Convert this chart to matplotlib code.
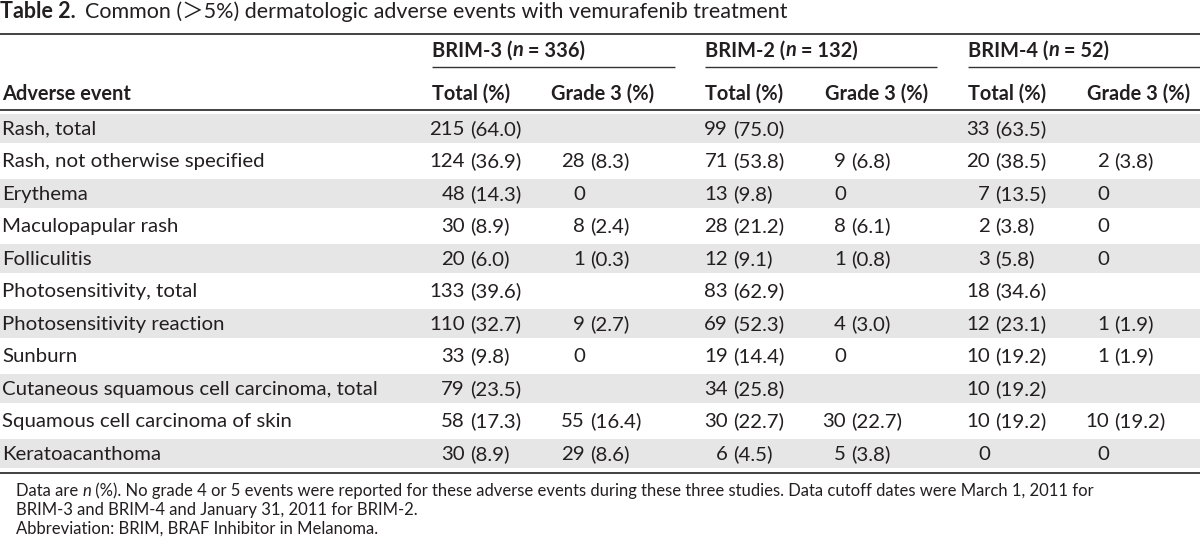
import matplotlib
matplotlib.use("Agg")
import matplotlib.pyplot as plt
from matplotlib.patches import Rectangle

# ---------------- data ----------------
title_bold = "Table 2."
title_rest = "Common (＞5%) dermatologic adverse events with vemurafenib treatment"

studies = ["BRIM-3", "BRIM-2", "BRIM-4"]
study_n = [336, 132, 52]
sub_headers = ["Total (%)", "Grade 3 (%)"]
row_header = "Adverse event"

events = [
    "Rash, total",
    "Rash, not otherwise specified",
    "Erythema",
    "Maculopapular rash",
    "Folliculitis",
    "Photosensitivity, total",
    "Photosensitivity reaction",
    "Sunburn",
    "Cutaneous squamous cell carcinoma, total",
    "Squamous cell carcinoma of skin",
    "Keratoacanthoma",
]

brim3_total_n = [215, 124, 48, 30, 20, 133, 110, 33, 79, 58, 30]
brim3_total_pct = [64.0, 36.9, 14.3, 8.9, 6.0, 39.6, 32.7, 9.8, 23.5, 17.3, 8.9]
brim3_g3_n = [None, 28, 0, 8, 1, None, 9, 0, None, 55, 29]
brim3_g3_pct = [None, 8.3, None, 2.4, 0.3, None, 2.7, None, None, 16.4, 8.6]

brim2_total_n = [99, 71, 13, 28, 12, 83, 69, 19, 34, 30, 6]
brim2_total_pct = [75.0, 53.8, 9.8, 21.2, 9.1, 62.9, 52.3, 14.4, 25.8, 22.7, 4.5]
brim2_g3_n = [None, 9, 0, 8, 1, None, 4, 0, None, 30, 5]
brim2_g3_pct = [None, 6.8, None, 6.1, 0.8, None, 3.0, None, None, 22.7, 3.8]

brim4_total_n = [33, 20, 7, 2, 3, 18, 12, 10, 10, 10, 0]
brim4_total_pct = [63.5, 38.5, 13.5, 3.8, 5.8, 34.6, 23.1, 19.2, 19.2, 19.2, None]
brim4_g3_n = [None, 2, 0, 0, 0, None, 1, 1, None, 10, 0]
brim4_g3_pct = [None, 3.8, None, None, None, None, 1.9, 1.9, None, 19.2, None]

footer_line1_a = "Data are "
footer_line1_n = "n"
footer_line1_b = (" (%). No grade 4 or 5 events were reported for these adverse events "
                  "during these three studies. Data cutoff dates were March 1, 2011 for")
footer_line2 = "BRIM-3 and BRIM-4 and January 31, 2011 for BRIM-2."
footer_line3 = "Abbreviation: BRIM, BRAF Inhibitor in Melanoma."

# ---------------- layout / style ----------------
W, H = 1200, 544
FAM = ["Lato", "Noto Sans CJK SC", "DejaVu Sans"]
TXT = "#231f20"
SHADE = "#e6e6e6"

fig = plt.figure(figsize=(W / 100, H / 100), dpi=100)
ax = fig.add_axes([0, 0, 1, 1])
ax.set_xlim(0, W)
ax.set_ylim(H, 0)
ax.axis("off")
fig.canvas.draw()
renderer = fig.canvas.get_renderer()


def width(s, size, **kw):
    t = ax.text(0, 0, s + "|", fontsize=size, family=FAM, **kw)
    t2 = ax.text(0, 0, "|", fontsize=size, family=FAM, **kw)
    w = t.get_window_extent(renderer).width - t2.get_window_extent(renderer).width
    t.remove()
    t2.remove()
    return w


def fit(s, target, **kw):
    return 10 * target / width(s, 10, **kw)


body_size = fit(events[8], 375)
bold_size = fit("Grade 3 (%)", 103, weight="bold")
foot_size = fit(footer_line1_a + footer_line1_n + footer_line1_b, 1084)
title_gap = 9
title_size = 10 * (790 - title_gap) / (width(title_bold, 10, weight="bold")
                                      + width(title_rest, 10))


def runs(x, y, parts, size):
    for s, kw in parts:
        ax.text(x, y, s, fontsize=size, family=FAM, color=TXT,
                va="baseline", ha="left", **kw)
        x += width(s, size, **kw)
    return x


# title
x = runs(0, 18, [(title_bold, dict(weight="bold"))], title_size)
runs(x + title_gap, 18, [(title_rest, {})], title_size)

# rules
ax.plot([0, W], [33.5, 33.5], color="#333333", lw=1.3, solid_capstyle="butt")
ax.plot([0, W], [110, 110], color="#333333", lw=1.3, solid_capstyle="butt")
ax.plot([0, W], [473, 473], color="#333333", lw=1.3, solid_capstyle="butt")

group_x = [432, 705, 968]
group_end = [675, 937, 1200]
sub_x = [[432, 551], [705, 825], [968, 1087]]
for gx, ge, st, n in zip(group_x, group_end, studies, study_n):
    runs(gx, 56.5, [(st + " (", dict(weight="bold")),
                    ("n", dict(weight="bold", style="italic")),
                    (f" = {n})", dict(weight="bold"))], bold_size)
    ax.plot([gx, ge], [67, 67], color="#333333", lw=1.0, solid_capstyle="butt")

ax.text(2, 99.5, row_header, fontsize=bold_size, family=FAM, weight="bold",
        color=TXT, va="baseline", ha="left")
for pair in sub_x:
    for sx, sh in zip(pair, sub_headers):
        ax.text(sx, 99.5, sh, fontsize=bold_size, family=FAM, weight="bold",
                color=TXT, va="baseline", ha="left")

# body rows
row0 = 128.3
pitch = 32.5
band_h = 29
cols = [
    (brim3_total_n, brim3_total_pct, 465),
    (brim3_g3_n, brim3_g3_pct, 585),
    (brim2_total_n, brim2_total_pct, 728),
    (brim2_g3_n, brim2_g3_pct, 846),
    (brim4_total_n, brim4_total_pct, 990),
    (brim4_g3_n, brim4_g3_pct, 1109),
]
space_w = width(" ", body_size)
for i, ev in enumerate(events):
    yc = row0 + i * pitch
    if i % 2 == 0:
        ax.add_patch(Rectangle((0, yc - band_h / 2), W, band_h,
                               facecolor=SHADE, edgecolor="none", zorder=0))
    yb = yc + 6.5
    ax.text(2, yb, ev, fontsize=body_size, family=FAM, color=TXT,
            va="baseline", ha="left")
    for ns, ps, xr in cols:
        nv, pv = ns[i], ps[i]
        if nv is None:
            continue
        ax.text(xr, yb, f"{nv}", fontsize=body_size, family=FAM, color=TXT,
                va="baseline", ha="right")
        if pv is not None:
            ax.text(xr + space_w, yb, f"({pv:.1f})", fontsize=body_size,
                    family=FAM, color=TXT, va="baseline", ha="left")

# footer
runs(16, 496, [(footer_line1_a, {}), (footer_line1_n, dict(style="italic")),
               (footer_line1_b, {})], foot_size)
runs(16, 515, [(footer_line2, {})], foot_size)
runs(16, 534, [(footer_line3, {})], foot_size)

fig.savefig("out.png", dpi=100)
